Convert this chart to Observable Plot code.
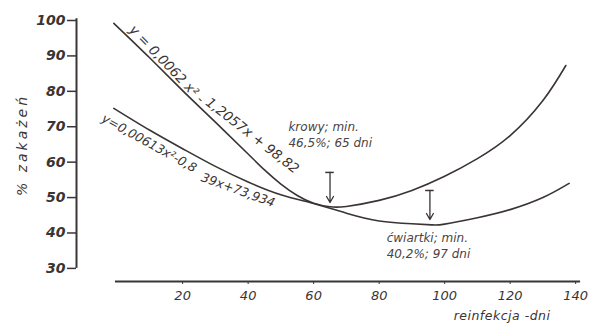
<!DOCTYPE html>
<html><head><meta charset="utf-8">
<script src="https://cdn.jsdelivr.net/npm/d3@7"></script>
<script src="https://cdn.jsdelivr.net/npm/@observablehq/plot@0.6"></script>
<style>
body{margin:0;background:#fff;}
</style></head><body><div id="chart"></div>
<script>
// Krowy (cows) curve
const daysK = [-1, 10, 20, 30, 40, 45, 50, 55, 60, 65, 70, 80, 90, 100, 110, 120, 130, 137];
const krowy = [99.2, 89.4, 80.2, 71.3, 62.3, 57.8, 53.8, 50.6, 48.4, 47.4, 47.5, 49.2, 52.0, 56.0, 61.0, 67.5, 77.4, 87.3];
// Ćwiartki (quarters) curve
const daysC = [-1, 10, 20, 30, 40, 50, 60, 70, 80, 90, 96, 100, 110, 120, 130, 138];
const cwiartki = [75.2, 69.0, 63.8, 58.8, 54.4, 50.8, 48.3, 45.6, 43.4, 42.6, 42.3, 42.5, 44.3, 46.6, 50.0, 54.0];

const xTicks = [20, 40, 60, 80, 100, 120, 140];
const yTicks = [30, 40, 50, 60, 70, 80, 90, 100];

// formula labels (start positions in data units, rotation)
const formulaText = ["y = 0,0062 x² -", "1,2057x + 98,82", "y=0,00613x²-0,8", "39x+73,934"];
const formulaX = [4.4, 27.6, -4.4, 25.8];
const formulaY = [98.0, 77.4, 72.6, 55.8];
const formulaRot = [46, 38, 29, 20];
const formulaSize = [13.5, 13.5, 12.5, 12.5];

// annotations
const annText = ["krowy; min.", "46,5%; 65 dni", "ćwiartki; min.", "40,2%; 97 dni"];
const annX = [52.3, 52.3, 82.3, 82.3];
const annY = [69.8, 65.3, 38.5, 34.0];

// arrows pointing at minima
const arrowX = [65, 95.5];
const arrowTop = [57.1, 52.0];
const arrowTip = [48.6, 43.8];

const X0 = -12.4, YB = 26.3;
const ink = "#3b3434";

const lineK = daysK.map((d, i) => ({x: d, y: krowy[i]}));
const lineC = daysC.map((d, i) => ({x: d, y: cwiartki[i]}));
const formulas = formulaText.map((t, i) => ({t, x: formulaX[i], y: formulaY[i], r: formulaRot[i], s: formulaSize[i]}));
const anns = annText.map((t, i) => ({t, x: annX[i], y: annY[i]}));
const arrows = arrowX.map((x, i) => ({x, top: arrowTop[i], tip: arrowTip[i]}));

const chart = Plot.plot({
  width: 595, height: 327,
  marginLeft: 76, marginRight: 10, marginTop: 20, marginBottom: 46,
  x: {domain: [X0, 143]},
  y: {domain: [YB, 100]},
  style: {background: "white", color: ink, fontFamily: "DejaVu Sans"},
  marks: [
    Plot.axisY({ticks: yTicks, tickSize: 9, tickPadding: 2, fontSize: 14, fontStyle: "italic", fontWeight: "bold", label: null, strokeWidth: 1.5}),
    Plot.ruleX([X0], {y1: 30, y2: 100.5, strokeWidth: 2, stroke: ink}),
    Plot.axisX({ticks: xTicks, tickSize: 3, tickPadding: 6, fontSize: 13, fontStyle: "italic", label: null}),
    Plot.ruleY([YB], {x1: -0.5, x2: 141.5, strokeWidth: 2, stroke: ink}),
    Plot.line(lineK, {x: "x", y: "y", curve: "natural", stroke: ink, strokeWidth: 1.6}),
    Plot.line(lineC, {x: "x", y: "y", curve: "natural", stroke: ink, strokeWidth: 1.6}),
    ...formulas.map(f => Plot.text([f], {x: "x", y: "y", text: "t", rotate: "r", textAnchor: "start", fontSize: f.s, fontStyle: "italic", fill: ink})),
    Plot.text(anns, {x: "x", y: "y", text: "t", textAnchor: "start", fontSize: 12, fontStyle: "italic", fill: "#4a4444"}),
    Plot.arrow(arrows, {x1: "x", y1: "top", x2: "x", y2: "tip", headLength: 8, strokeWidth: 1.3, stroke: ink}),
    Plot.ruleY(arrows, {y: "top", x1: d => d.x - 1.3, x2: d => d.x + 1.3, strokeWidth: 1.5, stroke: ink}),
    Plot.text(["% zakażeń"], {frameAnchor: "left", textAnchor: "middle", dx: -54, dy: -6, rotate: -90, fontSize: 14, fontStyle: "italic", fill: ink}),
    Plot.text(["reinfekcja -dni"], {frameAnchor: "bottom-right", dx: -35, dy: 38, textAnchor: "end", fontSize: 12.5, fontStyle: "italic", fill: ink})
  ]
});
d3.select(chart).selectAll("text").filter(function() { return this.textContent === "% zakażeń"; }).style("letter-spacing", "3px");
d3.select(chart).selectAll("text").filter(function() { return this.textContent === "reinfekcja -dni"; }).style("letter-spacing", "0.5px");
document.getElementById("chart").append(chart);
</script></body></html>
